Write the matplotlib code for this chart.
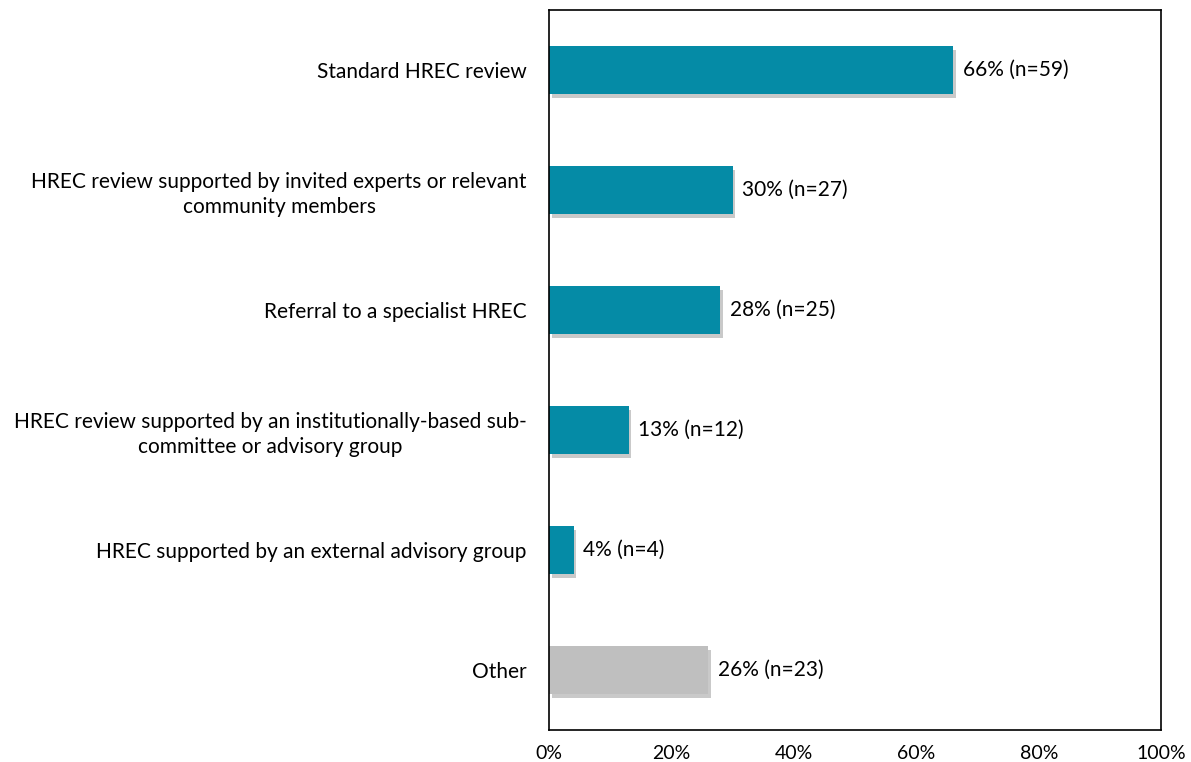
import matplotlib.pyplot as plt
import matplotlib.patheffects as pe
from matplotlib.ticker import FuncFormatter

plt.rcParams['font.family'] = ['Lato', 'DejaVu Sans']

categories = [
    'Standard HREC review',
    'HREC review supported by invited experts or relevant\ncommunity members',
    'Referral to a specialist HREC',
    'HREC review supported by an institutionally-based sub-\ncommittee or advisory group',
    'HREC supported by an external advisory group',
    'Other',
]
percents = [66, 30, 28, 13, 4, 26]
counts = [59, 27, 25, 12, 4, 23]
colors = ['#058BA6'] * 5 + ['#BFBFBF']

fig = plt.figure(figsize=(11.91, 7.62), dpi=100)
ax = fig.add_axes([0.461, 0.042, 0.514, 0.945])

ypos = range(len(categories))
bars = ax.barh(ypos, percents, height=0.4, color=colors)
for b in bars:
    b.set_path_effects([pe.SimplePatchShadow(offset=(2, -3), shadow_rgbFace='#666666', alpha=0.35),
                        pe.Normal()])

for y, p, n in zip(ypos, percents, counts):
    ax.text(p + 1.6, y, f'{p}% (n={n})', va='center', ha='left', fontsize=15)

ax.set_xlim(0, 100)
ax.set_ylim(len(categories) - 0.5, -0.5)
ax.set_xticks([0, 20, 40, 60, 80, 100])
ax.xaxis.set_major_formatter(FuncFormatter(lambda v, _: f'{v:.0f}%'))
ax.set_yticks(list(ypos))
ax.set_yticklabels(categories, fontsize=15, multialignment='center', linespacing=1.3)
ax.tick_params(axis='both', length=0)
ax.tick_params(axis='x', labelsize=14, pad=11)
ax.tick_params(axis='y', pad=16)
for s in ax.spines.values():
    s.set_linewidth(1.2)

fig.savefig('out.png', dpi=100)
